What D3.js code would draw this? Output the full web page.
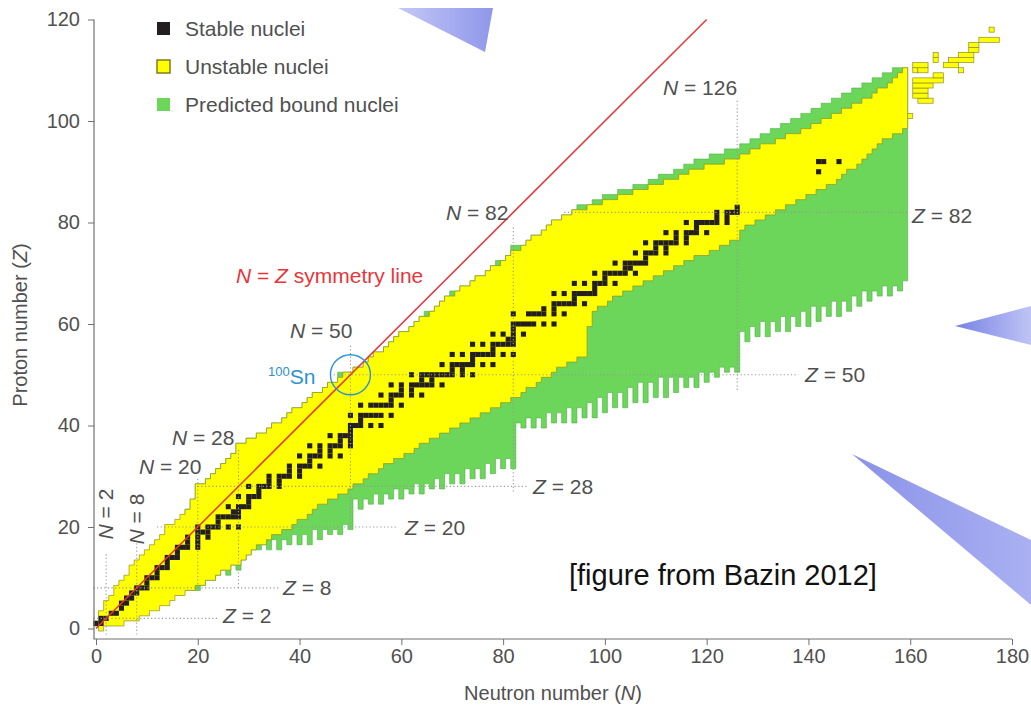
<!DOCTYPE html>
<html>
<head>
<meta charset="utf-8">
<script src="https://cdnjs.cloudflare.com/ajax/libs/d3/7.8.5/d3.min.js"></script>
<style>
  body { margin: 0; background: #fff; }
  svg { display: block; font-family: "Liberation Sans", Arial, sans-serif; }
</style>
</head>
<body>
<script>
// known (yellow) nuclei, one column per neutron number N = 0..159: lowest and highest Z
var yellowN0 = 0;
var yellowLo = [
  1,0,1,1,1,1,2,2,2,3,      3,4,4,5,5,6,7,7,8,8,
  9,9,10,10,11,12,12,13,13,14,   15,16,17,17,18,19,19,20,20,21,
  22,22,23,24,25,25,26,26,27,27, 28,29,29,30,31,31,32,33,33,34,
  34,35,35,36,37,37,38,38,39,39, 40,40,41,41,42,42,43,43,44,44,
  45,45,46,46,47,48,48,49,50,50, 51,52,52,53,53,54,54,60,63,64,
  64,65,66,66,67,67,68,68,69,69, 70,70,71,71,72,72,73,73,74,74,
  74,75,75,76,76,77,77,79,80,80, 81,81,82,82,83,83,84,84,85,85,
  86,86,87,87,88,88,89,90,91,91, 92,93,94,95,96,97,97,98,98,99
];
var yellowHi = [
  1,3,5,6,8,9,10,12,13,14,       15,16,17,18,20,20,21,22,23,25,
  28,28,29,30,31,32,33,34,36,36, 37,37,38,38,39,40,40,41,42,43,
  43,44,45,46,46,47,48,48,49,50, 50,51,51,52,53,54,54,55,56,57,
  58,58,59,60,61,61,62,63,64,65, 65,66,67,67,68,69,69,70,71,71,
  72,73,74,74,75,76,77,77,78,79, 80,80,81,81,82,82,82,83,83,83,
  84,84,84,85,85,85,86,86,86,87, 87,87,88,88,88,89,89,90,90,90,
  91,91,91,91,92,92,92,93,93,94, 94,95,95,95,96,96,97,97,97,98,
  98,99,99,100,100,101,101,102,102,103, 103,104,104,105,106,106,107,108,109,110
];

// superheavy islands beyond the main block: [Z, first N, last N]
var superheavyRows = [
  [101,160,160],[104,162,164],[105,161,163],[106,161,163],[107,161,164],
  [108,161,166],[109,165,166],[110,161,161],[110,162,163],[110,170,170],
  [111,161,163],[111,167,169],[112,165,165],[112,168,172],[113,165,165],
  [113,170,172],[114,172,173],[115,172,173],[116,174,177],[118,176,176]
];

// predicted bound (green) nuclei, one column per N = 18..159
var greenN0 = 18;
var greenLo = [
  8,8,8,9,10,10,11,12,11,13,   12,14,15,16,16,17,16,18,16,18,
  17,19,17,19,17,20,18,20,19,20, 19,21,20,26,24,26,25,27,25,27,
  26,28,26,28,27,29,27,29,28,30, 28,31,29,31,29,32,30,32,30,33,
  31,34,32,34,32,41,40,42,40,42, 40,43,41,43,41,44,41,44,42,45,
  42,46,43,47,44,47,44,48,45,49, 45,49,46,50,46,50,47,50,48,50,
  48,51,49,51,50,52,51,52,51,59, 57,60,58,61,58,61,59,62,59,62,
  60,63,60,64,61,64,62,65,62,65, 63,66,64,67,65,67,66,68,66,68,
  67,69
];
var greenHi = [
  23,25,28,28,29,30,31,32,33,34, 36,36,37,37,38,38,39,40,40,41,
  42,43,43,44,45,46,46,47,48,48, 50,50,50,51,51,52,53,54,54,55,
  56,57,58,58,59,60,61,62,62,63, 64,65,66,66,67,67,68,69,69,70,
  71,72,72,73,75,75,75,76,77,77, 78,79,80,80,81,81,82,83,83,83,
  84,84,85,85,85,86,86,86,87,87, 87,88,88,89,89,89,90,90,91,91,
  92,92,92,93,93,93,94,94,94,95, 95,96,96,97,97,98,98,99,99,100,
  100,101,101,102,102,103,103,104,104,105, 105,106,106,107,107,108,108,109,109,110,
  110,110
];

// stable nuclei: proton number and its stable neutron numbers
var stableZ = [1,2,3,4,5,6,7,8,9,10,11,12,13,14,15,16,17,18,19,20,21,22,23,24,25,26,27,28,29,30,
  31,32,33,34,35,36,37,38,39,40,41,42,44,45,46,47,48,49,50,51,52,53,54,55,56,57,58,59,60,62,
  63,64,65,66,67,68,69,70,71,72,73,74,75,76,77,78,79,80,81,82,83,90,92];
var stableN = [
  [0,1],[1,2],[3,4],[5],[5,6],[6,7],[7,8],[8,9,10],[10],[10,11,12],
  [12],[12,13,14],[14],[14,15,16],[16],[16,17,18,20],[18,20],[18,20,22],[20,21,22],[20,22,23,24,26,28],
  [24],[24,25,26,27,28],[27,28],[26,28,29,30],[30],[28,30,31,32],[32],[30,32,33,34,36],[34,36],[34,36,37,38,40],
  [38,40],[38,40,41,42,44],[42],[40,42,43,44,46,48],[44,46],[42,44,46,47,48,50],[48,50],[46,48,49,50],[50],[50,51,52,54,56],
  [52],[50,52,53,54,55,56,58],[52,54,55,56,57,58,60],[58],[56,58,59,60,62,64],[60,62],[58,60,62,63,64,65,66,68],[64,66],
  [62,64,65,66,67,68,69,70,72,74],[70,72],[68,70,71,72,73,74,76,78],[74],[70,72,74,75,76,77,78,80,82],[78],
  [74,76,78,79,80,81,82],[81,82],[78,80,82,84],[82],[82,83,84,85,86,88,90],[82,85,86,87,88,90,92],
  [88,90],[90,91,92,93,94,96],[94],[90,92,94,95,96,97,98],[98],[94,96,98,99,100,102],[100],
  [98,100,101,102,103,104,106],[104,105],[102,104,105,106,107,108],[108],[106,108,109,110,112],[110,112],
  [108,110,111,112,113,114,116],[114,116],[112,114,116,117,118,120],[118],[116,118,119,120,121,122,124],
  [122,124],[122,124,125,126],[126],[142],[142,143,146]
];

// magic numbers and axis ticks
var magicN = [2, 8, 20, 28, 50, 82, 126];
var magicZ = [2, 8, 20, 28, 50, 82];
var xTicks = [0, 20, 40, 60, 80, 100, 120, 140, 160, 180];
var yTicks = [0, 20, 40, 60, 80, 100, 120];

var legendItems = ['Stable nuclei', 'Unstable nuclei', 'Predicted bound nuclei'];

// ---- layout ----
var board = { width: 1031, height: 709 };
var colors = {
  stable: '#231f20', yellow: '#ffff00', yellowEdge: '#8f8f2a',
  green: '#6bd65a', greenEdge: '#4fae44', text: '#505050', axis: '#707070',
  red: '#e8353a', blue: '#2b93d3', dots: '#999999'
};

var svg = d3.select('body').append('svg')
  .attr('width', board.width)
  .attr('height', board.height);

var x = d3.scaleLinear().domain([0, 180]).range([96, 1012]);
var y = d3.scaleLinear().domain([0, 120]).range([628.5, 19.5]);

// slide decorations
var defs = svg.append('defs');
function grad(id, c1, c2) {
  var g = defs.append('linearGradient').attr('id', id)
    .attr('x1', '0').attr('x2', '1').attr('y1', '0').attr('y2', '0');
  g.append('stop').attr('offset', '0').attr('stop-color', c1);
  g.append('stop').attr('offset', '1').attr('stop-color', c2);
}
grad('gTop', '#c4c8f6', '#8f97ea');
grad('gRight', '#7781e5', '#bfc4f5');
grad('gLow', '#8a92e9', '#aab0f1');
svg.append('path').attr('d', 'M398,8 L493,8 L485,52 Z').attr('fill', 'url(#gTop)');
svg.append('path').attr('d', 'M955,326 L1031,306 L1031,345 Z').attr('fill', 'url(#gRight)');
svg.append('path').attr('d', 'M852,454 L1031,540 L1031,605 Z').attr('fill', 'url(#gLow)');

// ---- regions ----
var line = d3.line().x(function(d) { return x(d[0]); }).y(function(d) { return y(d[1]); });

function columnOutline(n0, lo, hi) {
  var top = [], bottom = [];
  lo.forEach(function(l, i) {
    var n = n0 + i;
    top.push([n - 0.5, hi[i] + 0.5], [n + 0.5, hi[i] + 0.5]);
    bottom.push([n - 0.5, l - 0.5], [n + 0.5, l - 0.5]);
  });
  return top.concat(bottom.reverse());
}

svg.append('path')
  .attr('d', line(columnOutline(greenN0, greenLo, greenHi)) + 'Z')
  .attr('fill', colors.green)
  .attr('stroke', colors.greenEdge)
  .attr('stroke-width', 0.6);

svg.append('path')
  .attr('d', line(columnOutline(yellowN0, yellowLo, yellowHi)) + 'Z')
  .attr('fill', colors.yellow)
  .attr('stroke', colors.yellowEdge)
  .attr('stroke-width', 0.7);

svg.selectAll('.heavy').data(superheavyRows).enter().append('rect')
  .attr('class', 'heavy')
  .attr('x', function(d) { return x(d[1] - 0.5); })
  .attr('width', function(d) { return x(d[2] + 0.5) - x(d[1] - 0.5); })
  .attr('y', function(d) { return y(d[0] + 0.5); })
  .attr('height', function(d) { return y(d[0] - 0.5) - y(d[0] + 0.5); })
  .attr('fill', colors.yellow)
  .attr('stroke', colors.yellowEdge)
  .attr('stroke-width', 0.7);

var stableCells = [];
stableZ.forEach(function(z, i) {
  stableN[i].forEach(function(n) { stableCells.push({ n: n, z: z }); });
});
svg.selectAll('.stable').data(stableCells).enter().append('rect')
  .attr('class', 'stable')
  .attr('x', function(d) { return x(d.n - 0.5); })
  .attr('width', x(1) - x(0))
  .attr('y', function(d) { return y(d.z + 0.5); })
  .attr('height', y(0) - y(1))
  .attr('fill', colors.stable);

// ---- magic number guide lines ----
var nExtent = { 2: [-1.2, 15], 8: [-1.2, 17], 20: [8, 29.5], 28: [8, 35.5], 50: [20, 56], 82: [27, 79], 126: [47, 104] };
var zExtent = { 2: [-0.5, 24], 8: [-0.5, 36], 20: [12, 59], 28: [20, 85], 50: [46, 138], 82: [92, 160] };

svg.selectAll('.nline').data(magicN).enter().append('line')
  .attr('x1', function(d) { return x(d); }).attr('x2', function(d) { return x(d); })
  .attr('y1', function(d) { return y(nExtent[d][0]); })
  .attr('y2', function(d) { return y(nExtent[d][1]); })
  .attr('stroke', colors.dots).attr('stroke-width', 1.1)
  .attr('stroke-dasharray', '1.2,2.4');

svg.selectAll('.zline').data(magicZ).enter().append('line')
  .attr('y1', function(d) { return y(d); }).attr('y2', function(d) { return y(d); })
  .attr('x1', function(d) { return x(zExtent[d][0]); })
  .attr('x2', function(d) { return x(zExtent[d][1]); })
  .attr('stroke', colors.dots).attr('stroke-width', 1.1)
  .attr('stroke-dasharray', '1.2,2.4');

// N = Z line and 100Sn
svg.append('line')
  .attr('x1', x(0)).attr('y1', y(0)).attr('x2', x(120)).attr('y2', y(120))
  .attr('stroke', colors.red).attr('stroke-width', 1.5);

svg.append('circle')
  .attr('cx', x(50)).attr('cy', y(50)).attr('r', 20)
  .attr('fill', 'none').attr('stroke', colors.blue).attr('stroke-width', 1.4);

// ---- axes ----
var yAxis = svg.append('g').attr('transform', 'translate(94,0)')
  .call(d3.axisLeft(y).tickValues(yTicks).tickSize(6).tickPadding(8));
var xAxis = svg.append('g').attr('transform', 'translate(0,639)')
  .call(d3.axisBottom(x).tickValues(xTicks).tickSize(6).tickPadding(4));
[xAxis, yAxis].forEach(function(a) {
  a.select('.domain').remove();
  a.selectAll('line').attr('stroke', colors.axis);
  a.selectAll('text').attr('fill', colors.text).style('font-size', '20px');
});
svg.append('path').attr('d', 'M94,19.5 L94,639 L1012,639')
  .attr('fill', 'none').attr('stroke', colors.axis).attr('stroke-width', 1.2);

var xt = svg.append('text').attr('x', 553).attr('y', 700)
  .attr('text-anchor', 'middle').attr('fill', colors.text).style('font-size', '20px');
xt.append('tspan').text('Neutron number (');
xt.append('tspan').style('font-style', 'italic').text('N');
xt.append('tspan').text(')');

var yt = svg.append('text').attr('transform', 'translate(27,325) rotate(-90)')
  .attr('text-anchor', 'middle').attr('fill', colors.text).style('font-size', '20px');
yt.append('tspan').text('Proton number (');
yt.append('tspan').style('font-style', 'italic').text('Z');
yt.append('tspan').text(')');

// ---- annotations ----
function label(sym, value, px, py, rot) {
  var t = svg.append('text').attr('fill', colors.text).style('font-size', '21px');
  if (rot) {
    t.attr('transform', 'translate(' + px + ',' + py + ') rotate(-90)')
      .attr('text-anchor', 'middle').attr('dy', '0.35em');
  } else {
    t.attr('x', px).attr('y', py);
  }
  t.append('tspan').style('font-style', 'italic').text(sym);
  t.append('tspan').text(' = ' + value);
  return t;
}
label('N', 126, 663, 95);
label('N', 82, 446, 220);
label('N', 50, 290, 338);
label('N', 28, 172, 445);
label('N', 20, 139, 474);
label('N', 2, 106, 514, true);
label('N', 8, 137, 519, true);
label('Z', 82, 912, 223);
label('Z', 50, 805, 382);
label('Z', 28, 533, 494);
label('Z', 20, 405, 535);
label('Z', 8, 283, 595);
label('Z', 2, 223, 623);

var sym = svg.append('text').attr('x', 236).attr('y', 283)
  .attr('fill', colors.red).style('font-size', '21px');
sym.append('tspan').style('font-style', 'italic').text('N');
sym.append('tspan').text(' = ');
sym.append('tspan').style('font-style', 'italic').text('Z');
sym.append('tspan').text(' symmetry line');

var sn = svg.append('text').attr('x', 268).attr('y', 384).attr('fill', colors.blue);
sn.append('tspan').style('font-size', '13px').attr('dy', '-8').text('100');
sn.append('tspan').style('font-size', '21px').attr('dy', '8').text('Sn');

svg.append('text').attr('x', 569).attr('y', 585)
  .style('font-size', '29px').attr('fill', '#111')
  .text('[figure from Bazin 2012]');

// ---- legend ----
var legendFill = [colors.stable, colors.yellow, colors.green];
var legend = svg.selectAll('.legend').data(legendItems).enter().append('g')
  .attr('class', 'legend')
  .attr('transform', function(d, i) { return 'translate(157,' + (22 + i * 38) + ')'; });
legend.append('rect')
  .attr('width', 13).attr('height', 13)
  .attr('fill', function(d, i) { return legendFill[i]; })
  .attr('stroke', function(d, i) { return i === 1 ? '#7d7d1e' : 'none'; })
  .attr('stroke-width', 1.5);
legend.append('text').attr('x', 28).attr('y', 14)
  .attr('fill', colors.text).style('font-size', '21px')
  .text(function(d) { return d; });
</script>
</body>
</html>
